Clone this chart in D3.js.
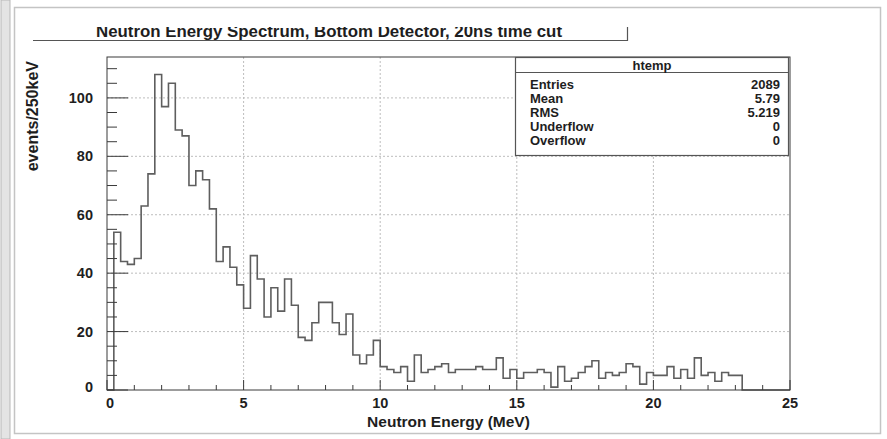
<!DOCTYPE html>
<html>
<head>
<meta charset="utf-8">
<script src="https://cdn.jsdelivr.net/npm/d3@7/dist/d3.min.js"></script>
<style>
  html, body { margin: 0; padding: 0; background: #fff; }
  svg { display: block; font-family: "Liberation Sans", Arial, Helvetica, sans-serif; }
</style>
</head>
<body>
<svg id="chart" width="887" height="439"></svg>
<script>
// ---- data ----
const titleText = "Neutron Energy Spectrum, Bottom Detector, 20ns time cut";
const xTitle = "Neutron Energy (MeV)";
const yTitle = "events/250keV";
const binWidth = 0.25; // MeV
const counts = [
  0, 54, 44, 43, 45, 63, 74, 108, 97, 105, 89, 87, 70, 75, 72, 62, 44, 49, 42, 36,
  28, 46, 38, 25, 35, 27, 38, 29, 18, 17, 23, 30, 30, 23, 19, 26, 12, 9, 12, 17,
  8, 7, 6, 8, 3, 12, 6, 7, 8, 9, 6, 7, 7, 7, 8, 7, 7, 11, 4, 7,
  4, 6, 6, 7, 6, 1, 8, 3, 4, 6, 8, 10, 4, 6, 5, 6, 9, 8, 2, 6,
  5, 5, 8, 4, 7, 4, 11, 5, 6, 3, 6, 5, 5, 0, 0, 0, 0, 0, 0, 0
];
const xTicks = [0, 5, 10, 15, 20, 25];
const yTicks = [0, 20, 40, 60, 80, 100];
const statsName = "htemp";
const statsLabels = ["Entries", "Mean", "RMS", "Underflow", "Overflow"];
const statsValues = ["2089", "5.79", "5.219", "0", "0"];

// ---- layout ----
const svg = d3.select("#chart");
const F = { l: 107, r: 790, t: 57, b: 390 };
const x = d3.scaleLinear().domain([0, 25]).range([F.l, F.r]);
const y = d3.scaleLinear().domain([0, 114]).range([F.b, F.t]);
const ink = "#3a3a3a";
const txt = "#1e1e1e";

// left gray strip & canvas border
svg.append("rect").attr("x", 1).attr("y", 0).attr("width", 9).attr("height", 439)
  .attr("fill", "#e4e4e4").attr("stroke", "#b8b8b8").attr("stroke-width", 1);
svg.append("rect").attr("x", 14.5).attr("y", 7.5).attr("width", 866).attr("height", 426)
  .attr("fill", "#fff").attr("stroke", "#c4c4c4").attr("stroke-width", 1.5);

// title (top of glyphs clipped, as in the reference)
svg.append("clipPath").attr("id", "tclip").append("rect")
  .attr("x", 20).attr("y", 27).attr("width", 620).attr("height", 20);
svg.append("text").attr("clip-path", "url(#tclip)")
  .attr("x", 329).attr("y", 37).attr("text-anchor", "middle")
  .attr("font-size", 16).attr("font-weight", "bold").attr("fill", txt)
  .attr("textLength", 466).attr("lengthAdjust", "spacingAndGlyphs")
  .text(titleText);
svg.append("path").attr("d", "M33,40.5H627.5V27")
  .attr("fill", "none").attr("stroke", "#555").attr("stroke-width", 1.2);

// grid
const grid = svg.append("g").attr("stroke", "#bdbdbd").attr("stroke-width", 1)
  .attr("stroke-dasharray", "2,2");
xTicks.filter(v => v > 0 && v < 25).forEach(v => {
  grid.append("line").attr("x1", x(v)).attr("x2", x(v)).attr("y1", F.t).attr("y2", F.b);
});
yTicks.filter(v => v > 0).forEach(v => {
  grid.append("line").attr("x1", F.l).attr("x2", F.r).attr("y1", y(v)).attr("y2", y(v));
});

// histogram outline
const pts = [[x(0), y(0)]];
counts.forEach((c, i) => {
  pts.push([x(i * binWidth), y(c)]);
  pts.push([x((i + 1) * binWidth), y(c)]);
});
pts.push([x(counts.length * binWidth), y(0)]);
svg.append("path").attr("d", d3.line()(pts))
  .attr("fill", "none").attr("stroke", "#5e5e5e").attr("stroke-width", 1.6);

// frame
svg.append("rect").attr("x", F.l).attr("y", F.t).attr("width", F.r - F.l).attr("height", F.b - F.t)
  .attr("fill", "none").attr("stroke", ink).attr("stroke-width", 1);

// x axis ticks (inside)
const xMinor = d3.range(0, 26, 1);
xMinor.forEach(v => {
  const major = xTicks.includes(v);
  svg.append("line").attr("x1", x(v)).attr("x2", x(v)).attr("y1", F.b).attr("y2", F.b - (major ? 10 : 5))
    .attr("stroke", ink).attr("stroke-width", 1);
});
xTicks.forEach(v => {
  svg.append("text").attr("x", x(v) + (v === 0 ? 3 : 0)).attr("y", 408).attr("text-anchor", "middle")
    .attr("font-size", 14.5).attr("font-weight", "bold").attr("fill", txt).text(v);
});
svg.append("text").attr("x", (F.l + F.r) / 2).attr("y", 427).attr("text-anchor", "middle")
  .attr("font-size", 15.5).attr("font-weight", "bold").attr("fill", txt).text(xTitle);

// y axis ticks (inside)
const yMinor = d3.range(0, 114, 5);
yMinor.forEach(v => {
  const major = yTicks.includes(v);
  svg.append("line").attr("x1", F.l).attr("x2", F.l + (major ? 21 : 10)).attr("y1", y(v)).attr("y2", y(v))
    .attr("stroke", ink).attr("stroke-width", 1);
});
yTicks.forEach(v => {
  svg.append("text").attr("x", 93).attr("y", y(v) + 5 - (v === 0 ? 3 : 0)).attr("text-anchor", "end")
    .attr("font-size", 14.5).attr("font-weight", "bold").attr("fill", txt).text(v);
});
svg.append("text").attr("transform", `translate(38,${F.t + 4}) rotate(-90)`).attr("text-anchor", "end")
  .attr("font-size", 16).attr("font-weight", "bold").attr("fill", txt).text(yTitle);

// stats box
const S = { l: 515.5, r: 788.5, t: 57.5, b: 155.5, h: 72.5 };
svg.append("rect").attr("x", S.l).attr("y", S.t).attr("width", S.r - S.l).attr("height", S.b - S.t)
  .attr("fill", "#fff").attr("stroke", "#555").attr("stroke-width", 1.2);
svg.append("line").attr("x1", S.l).attr("x2", S.r).attr("y1", S.h).attr("y2", S.h)
  .attr("stroke", "#555").attr("stroke-width", 1.2);
svg.append("text").attr("x", (S.l + S.r) / 2).attr("y", 69.5).attr("text-anchor", "middle")
  .attr("font-size", 13).attr("font-weight", "bold").attr("fill", txt).text(statsName);
statsLabels.forEach((lab, i) => {
  const yy = 88.5 + i * 14.2;
  svg.append("text").attr("x", 530).attr("y", yy).attr("font-size", 13).attr("font-weight", "bold")
    .attr("fill", txt).text(lab);
  svg.append("text").attr("x", 780).attr("y", yy).attr("text-anchor", "end").attr("font-size", 13)
    .attr("font-weight", "bold").attr("fill", txt).text(statsValues[i]);
});
</script>
</body>
</html>
